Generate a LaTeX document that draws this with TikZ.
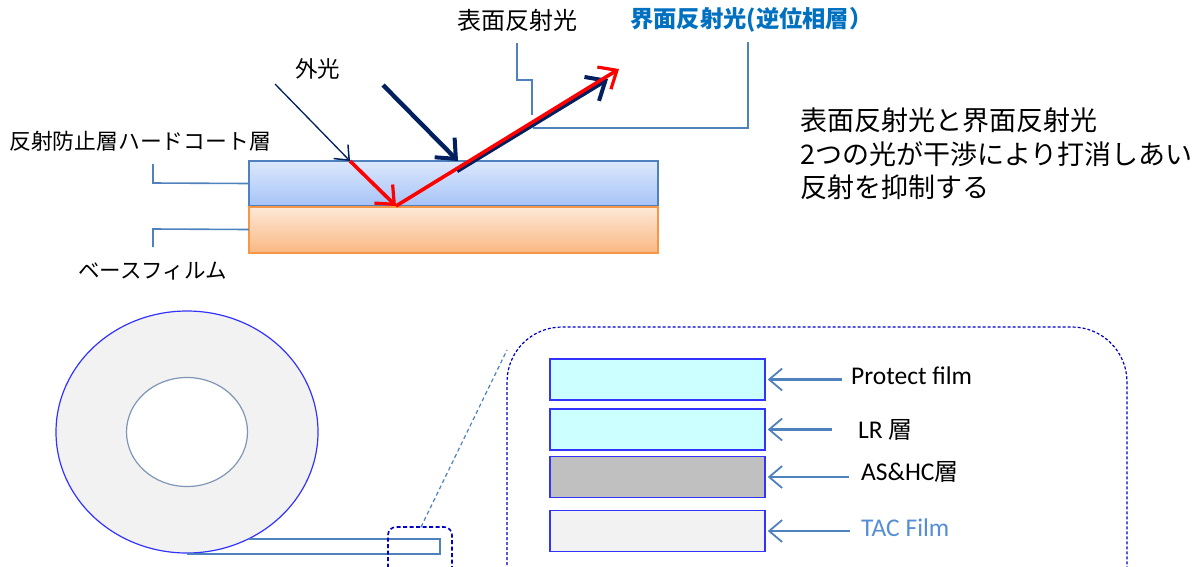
\documentclass[tikz,border=0pt]{standalone}
\usepackage{fontspec}
\setmainfont{Carlito}
\newfontfamily\jp{Noto Sans CJK JP}
\usetikzlibrary{arrows.meta,calc,shapes.geometric}
\definecolor{navy}{HTML}{002060}
\definecolor{callout}{HTML}{4F81BD}
\definecolor{jpblue}{HTML}{0070C0}
\definecolor{tacblue}{HTML}{558ED5}
\definecolor{rollblue}{HTML}{3333FF}
\definecolor{dashblue}{HTML}{0000CC}
\tikzset{
  jptext/.style={inner sep=0pt, font=\jp\fontsize{#1}{#1}\selectfont},
  lattext/.style={inner sep=0pt, font=\fontsize{25.5}{28}\selectfont, anchor=west},
  callline/.style={draw=callout, line width=1.6pt},
  layerbox/.style={draw=rollblue, line width=1.5pt, minimum width=215pt, minimum height=41pt, inner sep=0pt},
  pointer/.style={draw=callout, line width=2.4pt, -{Straight Barb[length=13pt,width=22pt,line width=1.8pt]}},
  redray/.style={draw=red, line width=3.6pt, -{Straight Barb[length=15pt,width=26pt,line width=3.2pt]}},
  navythin/.style={draw=navy, line width=1.3pt, -{Straight Barb[length=12pt,width=20pt,line width=1.5pt]}},
  navythick/.style={draw=navy, line width=4.4pt, -{Straight Barb[length=16pt,width=28pt,line width=4pt]}},
}
\begin{document}
\begin{tikzpicture}[x=1pt,y=-1pt]
\useasboundingbox (0,0) rectangle (1194,566);
\clip (0,0) rectangle (1194,566);
% ---------- upper: layers ----------
\path[top color={rgb,255:red,220;green,232;blue,253}, bottom color={rgb,255:red,166;green,195;blue,247}] (249,161) rectangle (658,206);
\draw[draw=callout, line width=1.8pt] (249,161) rectangle (658,206);
\node[inner sep=0pt, minimum width=409pt, minimum height=45pt] (hc) at (453.5,183.5) {};
\path[top color={rgb,255:red,253;green,233;blue,217}, bottom color={rgb,255:red,250;green,184;blue,130}] (249,206) rectangle (658,253);
\draw[draw={rgb,255:red,247;green,150;blue,70}, line width=1.8pt] (249,207) rectangle (658,253);
\node[inner sep=0pt, minimum width=409pt, minimum height=47pt] (base) at (453.5,229.5) {};
% labels
\node[jptext=21.8, anchor=west] (lhc) at (9,141) {反射防止層ハードコート層};
\node[jptext=21.5, anchor=west] (lbase) at (78,271) {ベースフィルム};
\node[jptext=22.5, anchor=west] (lgai) at (295,69) {外光};
\node[jptext=24, anchor=west] (lsurf) at (457,20) {表面反射光};
\node[anchor=west, inner sep=0pt, text=jpblue, font=\jp\bfseries\fontsize{23.3}{23.3}\selectfont] (lint) at (630,20) {界面反射光(逆位相層）};
\node[inner sep=0pt, anchor=west, align=left, font=\jp\fontsize{27}{33.5}\selectfont] (note) at (800,154) {表面反射光と界面反射光\\2つの光が干渉により打消しあい\\反射を抑制する};
% callout lines
\draw[callline] (hc.west) -- (153,183) -- (153,164);
\draw[callline] (base.west) -- (153,229) -- (153,247);
\coordinate (sA) at (517,43);
\coordinate (sB) at (532,115);
\draw[callline] (sA) -- (517,80) -- (532,80) -- (sB);
\coordinate (iA) at (748,42);
\coordinate (iB) at (533,128);
\draw[callline] (iA) -- (748,128) -- (iB);
% rays
\coordinate (inThinStart) at (275,84);
\coordinate (hitTop) at (350,161);
\coordinate (hitBottom) at (396,206);
\coordinate (inThickStart) at (383,85);
\coordinate (hitThick) at (458,161);
\coordinate (reflThickStart) at (457,171);
\coordinate (reflThickEnd) at (608,79);
\coordinate (reflRedEnd) at (619,69);
\draw[navythin] (inThinStart) -- (hitTop);
\draw[navythick] (inThickStart) -- (hitThick);
\draw[navythick] (reflThickStart) -- (reflThickEnd);
\draw[redray] (hitTop) -- (hitBottom);
\draw[redray] (hitBottom) -- (reflRedEnd);
% ---------- lower: roll ----------
\node[ellipse, draw=rollblue, fill={rgb,255:red,242;green,242;blue,242}, line width=1.2pt, minimum width=262pt, minimum height=242pt, inner sep=0pt] (roll) at (187,432) {};
\node[ellipse, draw={rgb,255:red,127;green,150;blue,180}, fill=white, line width=1.2pt, minimum width=121pt, minimum height=109pt, inner sep=0pt] (core) at (187,432) {};
\coordinate (tapeA) at (249,539);
\coordinate (tapeB) at (440,539);
\coordinate (tapeC) at (440,554);
\coordinate (tapeD) at (187,554);
\draw[draw=callout, line width=2.6pt] (tapeA) -- (tapeB) -- (tapeC) -- (tapeD);
% zoom boxes
\draw[draw=dashblue, line width=1.6pt, dash pattern=on 4pt off 2.5pt, rounded corners=8pt] (388,600) -- (388,527) -- (452,527) -- (452,600);
\coordinate (zsmall) at (421,527);
\coordinate (zbig) at (507,350);
\draw[draw=callout, line width=1.2pt, dash pattern=on 4pt off 3pt] (zsmall) -- (zbig);
\draw[draw=dashblue, line width=1.2pt, dash pattern=on 3pt off 2pt, rounded corners=55pt] (507,620) -- (507,327) -- (1127,327) -- (1127,620);
% layers
\node[layerbox, fill={rgb,255:red,204;green,255;blue,255}] (pf) at (657.5,379.5) {};
\node[layerbox, fill={rgb,255:red,204;green,255;blue,255}] (lr) at (657.5,429.5) {};
\node[layerbox, fill={rgb,255:red,192;green,192;blue,192}] (as) at (657.5,477) {};
\node[layerbox, fill={rgb,255:red,242;green,242;blue,242}] (tac) at (657.5,531) {};
\node[lattext] (lpf) at (851,376) {Protect film};
\node[lattext] (llr) at (858,430) {LR \jp\fontsize{24}{26}\selectfont 層};
\node[lattext] (las) at (861,472) {AS\&HC\jp\fontsize{24}{26}\selectfont 層};
\node[lattext, text=tacblue] (ltac) at (861,528) {TAC Film};
\draw[pointer] ($(pf.east -| lpf.west)+(-9,0)$) -- ($(pf.east)+(2,0)$);
\draw[pointer] ($(lr.east -| llr.west)+(-26,0)$) -- ($(lr.east)+(2,0)$);
\draw[pointer] ($(as.east -| las.west)+(-12,0)$) -- ($(as.east)+(2,0)$);
\draw[pointer] ($(tac.east -| ltac.west)+(-11,0)$) -- ($(tac.east)+(2,0)$);
\end{tikzpicture}
\end{document}
